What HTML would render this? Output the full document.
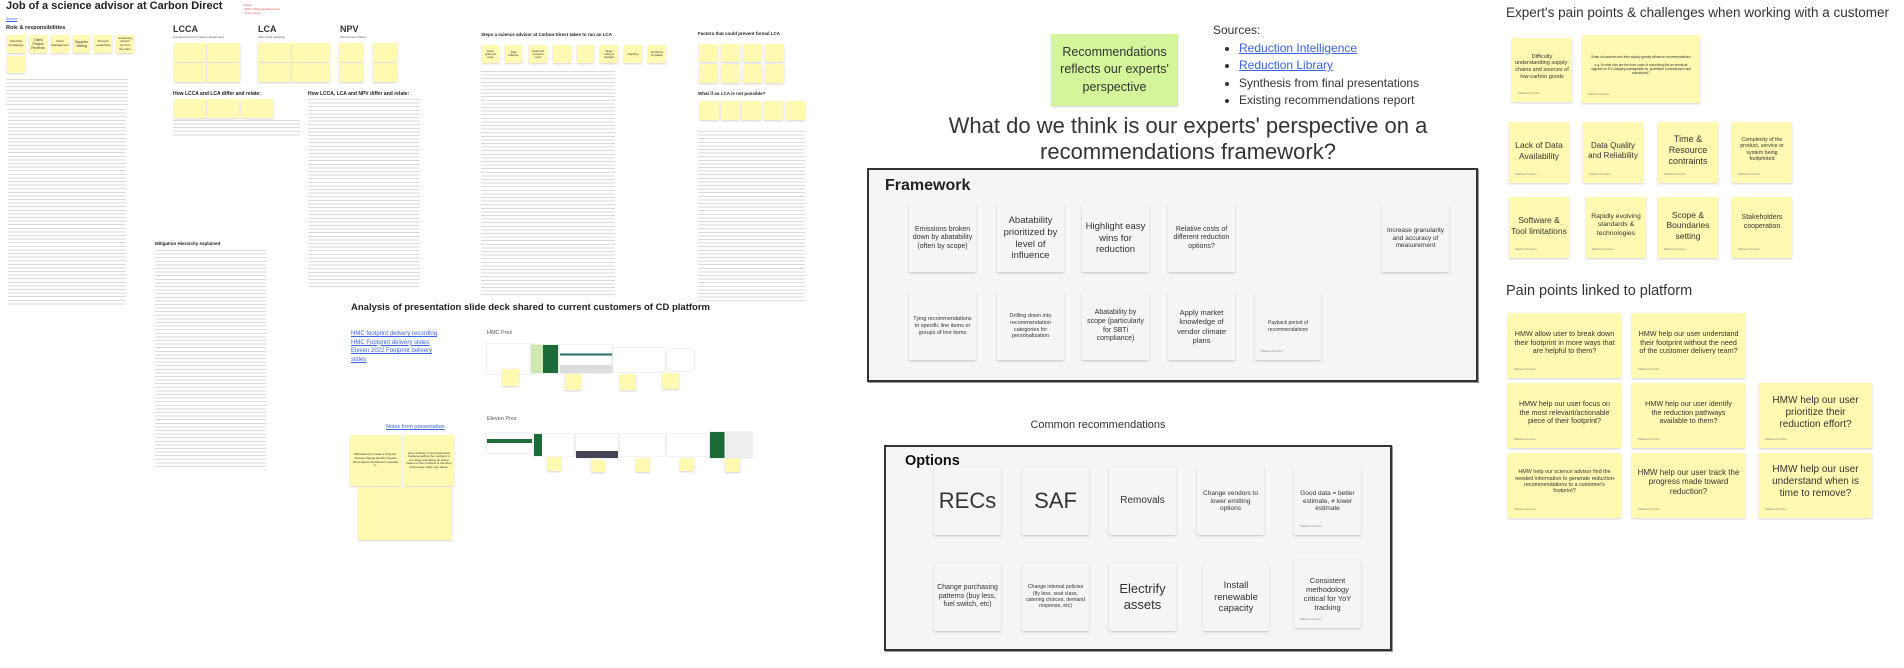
<!DOCTYPE html>
<html><head><meta charset="utf-8">
<style>
*{margin:0;padding:0;box-sizing:border-box}
body{width:1904px;height:668px;position:relative;background:#fff;font-family:"Liberation Sans","DejaVu Sans",sans-serif;color:#222;overflow:hidden}
.a{position:absolute}
.st{position:absolute;background:#fff9b1;box-shadow:0 1px 2px rgba(0,0,0,.18);display:flex;align-items:center;justify-content:center;text-align:center;color:#333;line-height:1.2;padding:2px}
.tx{position:absolute;background:repeating-linear-gradient(to bottom,rgba(120,120,120,.28) 0 1px,transparent 1px 3.6px)}
.card{position:absolute;background:#f4f5f7;box-shadow:0 1px 2px rgba(0,0,0,.2);display:flex;align-items:center;justify-content:center;text-align:center;color:#333;line-height:1.22;padding:3px}
.frame{position:absolute;border:2px solid #333;background:#f4f5f6;box-shadow:1px 1px 0 #999}
.au{position:absolute;left:6px;bottom:6px;font-size:3px;color:#888}
.lnk{color:#3a62e8;text-decoration:underline}
.sl{position:absolute;background:#fff;box-shadow:0 0 1px rgba(0,0,0,.3)}
</style></head><body>

<div class="a" style="left:6px;top:0px;font-size:11px;font-weight:bold;color:#222">Job of a science advisor at Carbon Direct</div>
<div class="a lnk" style="left:6px;top:17px;font-size:3.5px">Source</div>
<div class="a" style="left:243px;top:3px;font-size:3px;color:#e55;line-height:1.4">Check:<br>• MAC (Marginal Abatement<br>&nbsp;&nbsp;Cost Curve)</div>
<div class="a" style="left:6px;top:25px;font-size:5.5px;font-weight:bold">Role &amp; responsibilities</div>
<div class="st" style="left:7px;top:35px;width:18px;height:18px;font-size:3px">Scientific Knowledge</div>
<div class="st" style="left:29px;top:35px;width:18px;height:18px;font-size:3.5px">Client Project Reviews</div>
<div class="st" style="left:51px;top:35px;width:18px;height:18px;font-size:3px">Client Management</div>
<div class="st" style="left:73px;top:35px;width:17px;height:18px;font-size:3.5px">Supplier Vetting</div>
<div class="st" style="left:94px;top:35px;width:18px;height:18px;font-size:3px">Thought Leadership</div>
<div class="st" style="left:116px;top:35px;width:18px;height:18px;font-size:3px">Answering random Qs from the team</div>
<div class="st" style="left:7px;top:56px;width:18px;height:17px;font-size:2.5px"></div>
<div class="tx" style="left:6px;top:79px;width:122px;height:26px"></div>
<div class="tx" style="left:8px;top:109px;width:118px;height:196px"></div>

<div class="a" style="left:173px;top:24px;font-size:9px;font-weight:bold;color:#333">LCCA</div>
<div class="a" style="left:173px;top:35px;font-size:3px;color:#555">(Levelized Cost of Carbon Abatement)</div>
<div class="a" style="left:258px;top:24px;font-size:9px;font-weight:bold;color:#333">LCA</div>
<div class="a" style="left:258px;top:35px;font-size:3px;color:#555">(Life Cycle Analysis)</div>
<div class="a" style="left:340px;top:24px;font-size:9px;font-weight:bold;color:#333">NPV</div>
<div class="a" style="left:340px;top:35px;font-size:3px;color:#555">(Net Present Value)</div>
<div class="st" style="left:174px;top:43px;width:32px;height:19px"></div>
<div class="st" style="left:207px;top:43px;width:33px;height:19px"></div>
<div class="st" style="left:174px;top:63px;width:32px;height:19px"></div>
<div class="st" style="left:207px;top:63px;width:33px;height:19px"></div>
<div class="st" style="left:258px;top:43px;width:33px;height:19px"></div>
<div class="st" style="left:292px;top:43px;width:38px;height:19px"></div>
<div class="st" style="left:258px;top:63px;width:33px;height:19px"></div>
<div class="st" style="left:292px;top:63px;width:38px;height:19px"></div>
<div class="st" style="left:339px;top:43px;width:24px;height:19px"></div>
<div class="st" style="left:373px;top:43px;width:24px;height:19px"></div>
<div class="st" style="left:339px;top:63px;width:24px;height:19px"></div>
<div class="st" style="left:373px;top:63px;width:24px;height:19px"></div>
<div class="a" style="left:173px;top:91px;font-size:5px;font-weight:bold">How LCCA and LCA differ and relate:</div>
<div class="st" style="left:174px;top:99px;width:32px;height:19px"></div>
<div class="st" style="left:207px;top:99px;width:32px;height:19px"></div>
<div class="st" style="left:241px;top:99px;width:32px;height:19px"></div>
<div class="tx" style="left:173px;top:120px;width:127px;height:18px"></div>
<div class="a" style="left:308px;top:91px;font-size:5px;font-weight:bold">How LCCA, LCA and NPV differ and relate:</div>
<div class="tx" style="left:308px;top:99px;width:112px;height:190px"></div>

<div class="a" style="left:155px;top:241px;font-size:4.5px;font-weight:bold">Mitigation Hierarchy explained</div>
<div class="tx" style="left:155px;top:250px;width:111px;height:217px"></div>

<div class="a" style="left:481px;top:32px;font-size:4.5px;font-weight:bold">Steps a science advisor at Carbon Direct takes to run an LCA</div>
<div class="st" style="left:482px;top:45px;width:17px;height:18px;font-size:2.5px">Define goals and scope</div>
<div class="st" style="left:505px;top:45px;width:17px;height:18px;font-size:2.5px">Data collection</div>
<div class="st" style="left:529px;top:45px;width:18px;height:18px;font-size:2.5px">Impact and emissions report</div>
<div class="st" style="left:553px;top:45px;width:18px;height:18px;font-size:2.5px"></div>
<div class="st" style="left:577px;top:45px;width:17px;height:18px;font-size:2.5px"></div>
<div class="st" style="left:600px;top:45px;width:18px;height:18px;font-size:2.5px">Target setting &amp; strategies</div>
<div class="st" style="left:624px;top:45px;width:18px;height:18px;font-size:2.5px">Reporting</div>
<div class="st" style="left:648px;top:45px;width:18px;height:18px;font-size:2.5px">Monitoring &amp; Updates</div>
<div class="tx" style="left:481px;top:71px;width:134px;height:224px"></div>

<div class="a" style="left:698px;top:31px;font-size:4.5px;font-weight:bold">Factors that could prevent formal LCA</div>
<div class="st" style="left:699px;top:44px;width:19px;height:18px"></div>
<div class="st" style="left:721px;top:44px;width:19px;height:18px"></div>
<div class="st" style="left:743px;top:44px;width:19px;height:18px"></div>
<div class="st" style="left:765px;top:44px;width:19px;height:18px"></div>
<div class="st" style="left:699px;top:64px;width:19px;height:19px"></div>
<div class="st" style="left:721px;top:64px;width:19px;height:19px"></div>
<div class="st" style="left:743px;top:64px;width:19px;height:19px"></div>
<div class="st" style="left:765px;top:64px;width:19px;height:19px"></div>
<div class="a" style="left:698px;top:91px;font-size:4.5px;font-weight:bold">What if an LCA is not possible?</div>
<div class="st" style="left:700px;top:101px;width:19px;height:19px"></div>
<div class="st" style="left:721px;top:101px;width:19px;height:19px"></div>
<div class="st" style="left:742px;top:101px;width:19px;height:19px"></div>
<div class="st" style="left:764px;top:101px;width:19px;height:19px"></div>
<div class="st" style="left:786px;top:101px;width:19px;height:19px"></div>
<div class="tx" style="left:698px;top:131px;width:107px;height:170px"></div>

<div class="a" style="left:351px;top:302px;font-size:9.5px;font-weight:bold">Analysis of presentation slide deck shared to current customers of CD platform</div>
<div class="a lnk" style="left:351px;top:330px;font-size:6px;line-height:8.7px">HMC footprint delivery recording<br>HMC Footprint delivery slides<br>Eleven 2022 Footprint delivery <br>slides</div>
<div class="a" style="left:487px;top:330px;font-size:5.5px;color:#555">HMC Prez</div>
<div class="sl" style="left:487px;top:344px;width:48px;height:30px"></div>
<div class="sl" style="left:531px;top:345px;width:27px;height:28px;background:linear-gradient(90deg,#cfe8b0 0 45%,#1e6b3a 45%)"></div>
<div class="sl" style="left:560px;top:345px;width:52px;height:28px;background:linear-gradient(#fff 0 30%,#2a6b6b 30% 38%,#fff 38% 72%,#ddd 72%)"></div>
<div class="sl" style="left:613px;top:348px;width:52px;height:24px"></div>
<div class="sl" style="left:667px;top:349px;width:27px;height:22px"></div>
<div class="st" style="left:502px;top:369px;width:17px;height:17px"></div>
<div class="st" style="left:565px;top:374px;width:16px;height:16px"></div>
<div class="st" style="left:620px;top:374px;width:16px;height:16px"></div>
<div class="st" style="left:662px;top:373px;width:17px;height:16px"></div>
<div class="a" style="left:487px;top:416px;font-size:5.5px;color:#555">Eleven Prez</div>
<div class="sl" style="left:487px;top:433px;width:45px;height:20px;background:linear-gradient(#fff 0 30%,#1e6b3a 30% 50%,#fff 50%)"></div>
<div class="sl" style="left:534px;top:434px;width:40px;height:22px;background:linear-gradient(90deg,#1e6b3a 0 20%,#fff 20%)"></div>
<div class="sl" style="left:576px;top:434px;width:42px;height:24px;background:linear-gradient(#fff 0 70%,#445 70%)"></div>
<div class="sl" style="left:620px;top:434px;width:45px;height:22px"></div>
<div class="sl" style="left:667px;top:434px;width:42px;height:22px"></div>
<div class="sl" style="left:710px;top:432px;width:42px;height:26px;background:linear-gradient(90deg,#1e6b3a 0 35%,#eee 35%)"></div>
<div class="st" style="left:547px;top:457px;width:14px;height:14px"></div>
<div class="st" style="left:591px;top:460px;width:14px;height:12px"></div>
<div class="st" style="left:636px;top:458px;width:14px;height:14px"></div>
<div class="st" style="left:680px;top:458px;width:14px;height:13px"></div>
<div class="st" style="left:725px;top:458px;width:15px;height:14px"></div>
<div class="a lnk" style="left:386px;top:424px;font-size:5.5px">Notes from presentation</div>
<div class="st" style="left:350px;top:435px;width:51px;height:51px;font-size:3px">Motivations to create a footprint: Climate change directly impacts the locations that Eleven operates in.</div>
<div class="st" style="left:404px;top:435px;width:50px;height:51px;font-size:3px">Left a feeling of incompleteness because getting the numbers is one thing and taking an action based on the numbers is the thing that people really care about.</div>
<div class="st" style="left:358px;top:487px;width:94px;height:53px"></div>

<div class="st" style="left:1051px;top:34px;width:127px;height:72px;background:#d4f59a;font-size:12.5px;color:#333;line-height:1.4">Recommendations reflects our experts' perspective</div>
<div class="a" style="left:1213px;top:22px;font-size:12px;color:#333;line-height:17.5px">Sources:
<ul style="margin-left:26px;list-style:disc">
<li><span class="lnk">Reduction Intelligence</span></li>
<li><span class="lnk">Reduction Library</span></li>
<li>Synthesis from final presentations</li>
<li>Existing recommendations report</li>
</ul></div>
<div class="a" style="left:888px;top:113px;width:600px;text-align:center;font-size:22px;color:#333;line-height:26px;white-space:nowrap">What do we think is our experts' perspective on a<br>recommendations framework?</div>

<div class="frame" style="left:867px;top:168px;width:611px;height:214px"></div>
<div class="a" style="left:885px;top:177px;font-size:16px;font-weight:bold;color:#222">Framework</div>
<div class="card" style="left:909px;top:205px;width:67px;height:67px;font-size:7px">Emissions broken down by abatability (often by scope)</div>
<div class="card" style="left:997px;top:205px;width:67px;height:67px;font-size:9.5px">Abatability prioritized by level of influence</div>
<div class="card" style="left:1082px;top:205px;width:67px;height:67px;font-size:9.5px">Highlight easy wins for reduction</div>
<div class="card" style="left:1168px;top:205px;width:67px;height:67px;font-size:7px">Relative costs of different reduction options?</div>
<div class="card" style="left:1382px;top:205px;width:67px;height:67px;font-size:6.5px">Increase granularity and accuracy of measurement</div>
<div class="card" style="left:909px;top:293px;width:67px;height:67px;font-size:5.5px">Tying recommendations to specific line items or groups of line items</div>
<div class="card" style="left:997px;top:293px;width:67px;height:67px;font-size:5.5px">Drilling down into recommendation categories for personalization</div>
<div class="card" style="left:1082px;top:293px;width:67px;height:67px;font-size:7px">Abatability by scope (particularly for SBTi compliance)</div>
<div class="card" style="left:1168px;top:293px;width:67px;height:67px;font-size:7.5px">Apply market knowledge of vendor climate plans</div>
<div class="card" style="left:1255px;top:293px;width:66px;height:67px;font-size:5px">Payback period of recommendations<span class="au">Mathieu Fortune</span></div>

<div class="a" style="left:1000px;top:419px;width:196px;text-align:center;font-size:11px;color:#333">Common recommendations</div>
<div class="frame" style="left:884px;top:445px;width:508px;height:206px"></div>
<div class="card" style="left:934px;top:467px;width:67px;height:68px;font-size:22px">RECs</div>
<div class="a" style="left:905px;top:453px;font-size:14.5px;font-weight:bold;color:#111">Options</div>
<div class="card" style="left:1022px;top:467px;width:67px;height:68px;font-size:22px">SAF</div>
<div class="card" style="left:1109px;top:467px;width:67px;height:68px;font-size:10px">Removals</div>
<div class="card" style="left:1197px;top:468px;width:67px;height:67px;font-size:6.5px">Change vendors to lower emitting options</div>
<div class="card" style="left:1294px;top:468px;width:67px;height:67px;font-size:6.5px">Good data = better estimate, ≠ lower estimate<span class="au">Mathieu Fortune</span></div>
<div class="card" style="left:934px;top:563px;width:67px;height:68px;font-size:7px">Change purchasing patterns (buy less, fuel switch, etc)</div>
<div class="card" style="left:1022px;top:563px;width:67px;height:68px;font-size:5.2px">Change internal policies (fly less, seat class, catering choices, demand response, etc)</div>
<div class="card" style="left:1109px;top:563px;width:67px;height:68px;font-size:13px">Electrify assets</div>
<div class="card" style="left:1203px;top:564px;width:66px;height:67px;font-size:9.5px">Install renewable capacity</div>
<div class="card" style="left:1294px;top:560px;width:67px;height:68px;font-size:7.5px">Consistent methodology critical for YoY tracking<span class="au">Mathieu Fortune</span></div>

<div class="a" style="left:1506px;top:5px;font-size:13.5px;color:#333;white-space:nowrap">Expert's pain points &amp; challenges when working with a customer</div>
<div class="st" style="left:1512px;top:38px;width:60px;height:64px;font-size:5.5px;padding-bottom:8px">Difficulty understanding supply-chains and sources of low-carbon goods<span class="au">Mathieu Fortune</span></div>
<div class="st" style="left:1582px;top:35px;width:118px;height:68px;font-size:3.2px;padding:4px 8px 10px">Scale of customer and their activity greatly influence recommendations<br><br>e.g. At what size are the fixed costs of something like an electrical upgrade for EV charging manageable vs. prohibitive (unsubsidized and subsidized)?<span class="au">Mathieu Fortune</span></div>
<div class="st" style="left:1509px;top:122px;width:60px;height:61px;font-size:8.5px;padding-bottom:6px">Lack of Data Availability<span class="au">Mathieu Fortune</span></div>
<div class="st" style="left:1583px;top:122px;width:60px;height:61px;font-size:8px;padding-bottom:6px">Data Quality and Reliability<span class="au">Mathieu Fortune</span></div>
<div class="st" style="left:1658px;top:122px;width:60px;height:61px;font-size:9px;padding-bottom:6px">Time &amp; Resource contraints<span class="au">Mathieu Fortune</span></div>
<div class="st" style="left:1732px;top:122px;width:60px;height:61px;font-size:5.3px;padding-bottom:8px">Complexity of the product, service or system being footprinted<span class="au">Mathieu Fortune</span></div>
<div class="st" style="left:1509px;top:197px;width:60px;height:61px;font-size:8.5px;padding-bottom:6px">Software &amp; Tool limitations<span class="au">Mathieu Fortune</span></div>
<div class="st" style="left:1586px;top:197px;width:60px;height:61px;font-size:6.8px;padding-bottom:6px">Rapidly evolving standards &amp; technologies<span class="au">Mathieu Fortune</span></div>
<div class="st" style="left:1658px;top:197px;width:60px;height:61px;font-size:8.5px;padding-bottom:6px">Scope &amp; Boundaries setting<span class="au">Mathieu Fortune</span></div>
<div class="st" style="left:1732px;top:197px;width:60px;height:61px;font-size:7px;padding-bottom:12px">Stakeholders cooperation<span class="au">Mathieu Fortune</span></div>

<div class="a" style="left:1506px;top:283px;font-size:14.5px;color:#333">Pain points linked to platform</div>
<div class="st" style="left:1508px;top:313px;width:113px;height:65px;font-size:7.2px;padding:3px 6px 8px">HMW allow user to break down their footprint in more ways that are helpful to them?<span class="au">Mathieu Fortune</span></div>
<div class="st" style="left:1632px;top:313px;width:113px;height:65px;font-size:7.2px;padding:3px 6px 8px">HMW help our user understand their footprint without the need of the customer delivery team?<span class="au">Mathieu Fortune</span></div>
<div class="st" style="left:1508px;top:383px;width:113px;height:65px;font-size:7.2px;padding:3px 6px 8px">HMW help our user focus on the most relevant/actionable piece of their footprint?<span class="au">Mathieu Fortune</span></div>
<div class="st" style="left:1632px;top:383px;width:113px;height:65px;font-size:7.2px;padding:3px 12px 8px">HMW help our user identify the reduction pathways available to them?<span class="au">Mathieu Fortune</span></div>
<div class="st" style="left:1759px;top:383px;width:113px;height:65px;font-size:10px;padding:3px 6px 8px">HMW help our user prioritize their reduction effort?<span class="au">Mathieu Fortune</span></div>
<div class="st" style="left:1508px;top:453px;width:113px;height:65px;font-size:5.4px;padding:3px 5px 10px">HMW help our science advisor find the needed information to generate reduction recommendations to a customer's footprint?<span class="au">Mathieu Fortune</span></div>
<div class="st" style="left:1632px;top:453px;width:113px;height:65px;font-size:8px;padding:3px 5px 10px">HMW help our user track the progress made toward reduction?<span class="au">Mathieu Fortune</span></div>
<div class="st" style="left:1759px;top:453px;width:113px;height:65px;font-size:10px;padding:3px 6px 10px">HMW help our user understand when is time to remove?<span class="au">Mathieu Fortune</span></div>

</body></html>
